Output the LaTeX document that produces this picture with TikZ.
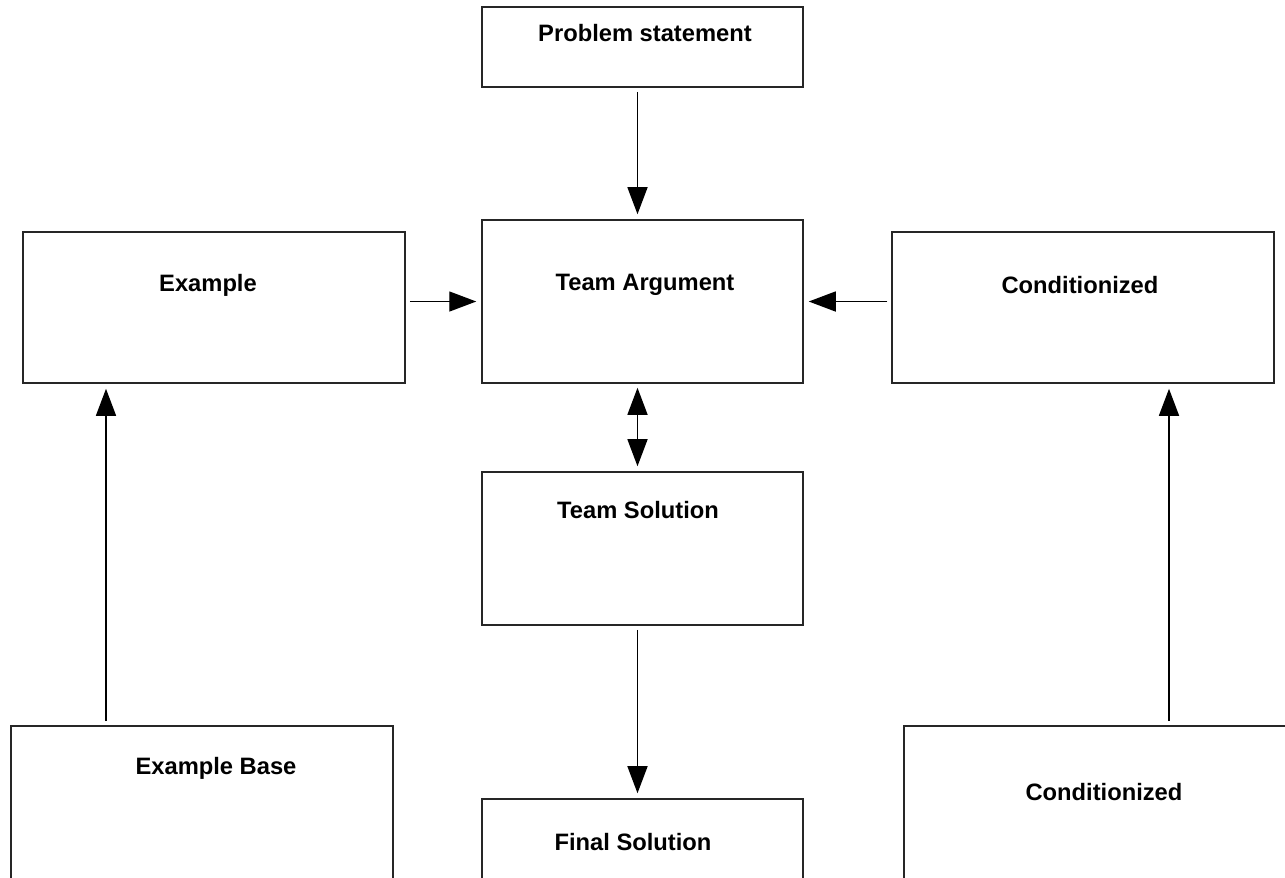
\documentclass[tikz,border=0pt]{standalone}
\usepackage{fontspec}
\setmainfont{Liberation Sans}
\usepackage{tikz}
\usetikzlibrary{arrows.meta,positioning,calc}

\begin{document}
\begin{tikzpicture}[
    x=0.02cm, y=-0.02cm,
    box/.style={rectangle,draw=black!85,line width=0.9pt,inner sep=0pt},
    narrow/.style={box,minimum width=6.42cm},
    wide/.style={box,minimum width=7.64cm},
    lbl/.style={font=\fontsize{13.5}{16}\selectfont\bfseries,inner sep=0pt},
    arr/.style={-{Triangle[length=0.54cm,width=0.4cm]},line width=0.85pt,
                shorten >=0.1cm,shorten <=0.08cm},
    darr/.style={arr,{Triangle[length=0.54cm,width=0.4cm]}-{Triangle[length=0.54cm,width=0.4cm]}},
    >=Latex]
\useasboundingbox (0,0) rectangle (1285,877);
% middle column
\node[narrow,minimum height=1.6cm]  (prob) at (642.5,47)    {};
\node[narrow,minimum height=3.26cm] (targ) at (642.5,301.5) {};
\node[narrow,minimum height=3.06cm] (tsol) at (642.5,548.5) {};
\node[narrow,minimum height=3.2cm]  (fin)  at (642.5,879)   {};
% side columns
\node[wide,minimum height=3.02cm] (ex)    at (214,307.5)  {};
\node[wide,minimum height=3.02cm] (cond)  at (1083,307.5) {};
\node[wide,minimum height=3.2cm]  (exb)   at (202,806)    {};
\node[wide,minimum width=7.82cm,minimum height=3.2cm] (condb) at (1099.5,806) {};
% box titles
\node[lbl] (prob-t)  at (645,33)   {Problem statement};
\node[lbl] (targ-t)  at (645,285)  {Team Argument};
\node[lbl] (tsol-t)  at (638,510)  {Team Solution};
\node[lbl] (fin-t)   at (633,842)  {Final Solution};
\node[lbl] (ex-t)    at (208,285)  {Example};
\node[lbl] (cond-t)  at (1080,285) {Conditionized};
\node[lbl] (exb-t)   at (216,768)  {Example Base};
\node[lbl] (condb-t) at (1104,792) {Conditionized};
% connectors
\coordinate (mid) at ($(targ.north)+(-5,0)$);
\coordinate (aex) at ($(ex.south)+(-108,0)$);
\coordinate (acd) at ($(cond.south)+(86,0)$);
\draw[arr] (prob.south -| mid) -- (targ.north -| mid);
\draw[arr] (ex.east |- targ) -- (targ.west);
\draw[arr] (cond.west |- targ) -- (targ.east);
\draw[darr] (targ.south -| mid) -- (tsol.north -| mid);
\draw[arr] (tsol.south -| mid) -- (fin.north -| mid);
\draw[arr] (exb.north -| aex) -- (aex);
\draw[arr] (condb.north -| acd) -- (acd);
\end{tikzpicture}
\end{document}
